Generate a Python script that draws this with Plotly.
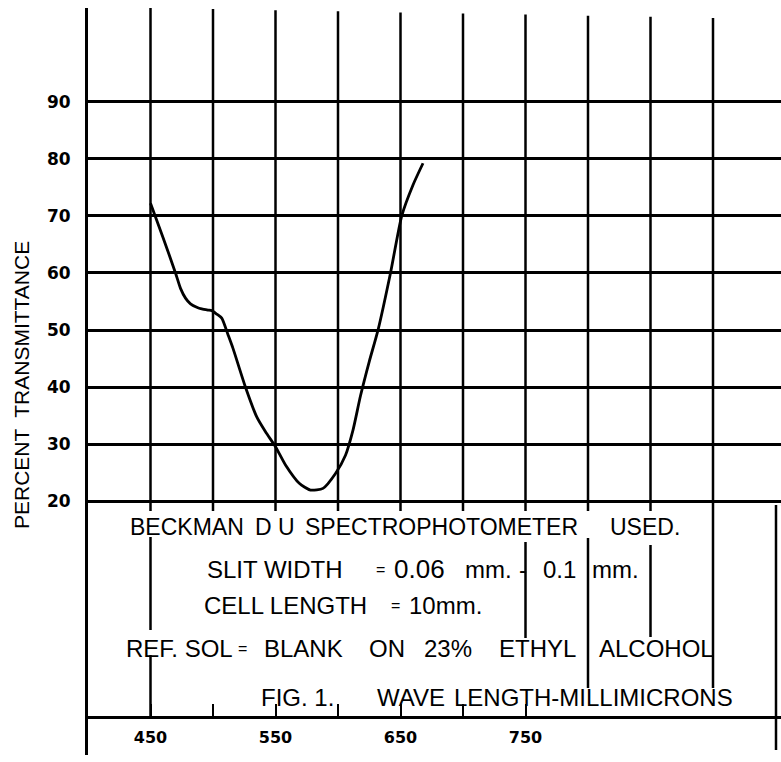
import plotly.graph_objects as go

# ---------------- data ----------------
wavelength_nm = [450, 460, 470, 474, 478, 482, 487, 491, 496, 499, 503, 507, 512,
                 516, 526, 535, 542, 550, 558, 569, 578, 588, 598, 606, 612, 618,
                 625, 632, 642, 651, 660, 668]
transmittance = [72.2, 66.2, 60.0, 57.3, 55.6, 54.6, 54.0, 53.7, 53.5, 53.4, 52.8,
                 52.1, 49.2, 46.8, 40.0, 34.8, 32.2, 29.6, 26.4, 23.2, 22.0, 22.3,
                 24.9, 28.1, 32.5, 38.5, 44.5, 50.0, 60.0, 70.0, 75.4, 79.2]

y_ticks = [20, 30, 40, 50, 60, 70, 80, 90]
y_tick_labels = ["20", "30", "40", "50", "60", "70", "80", "90"]
x_ticks = [450, 500, 550, 600, 650, 700, 750]
x_tick_labels = ["450", "", "550", "", "650", "", "750"]
grid_wavelengths = [450, 500, 550, 600, 650, 700, 750, 800, 850, 900]

# ---------------- layout geometry (pixels of the page) ----------------
FIG_W, FIG_H = 781, 762
PLOT_L, PLOT_T, PLOT_B = 88, 8, 755          # plot area edges in px
PX_PER_NM = 1.25
PX_PER_PCT = 5.7136
Y20_PX = 501.5                               # pixel row of the 20 % line
X_RANGE = [400, 400 + (FIG_W - PLOT_L) / PX_PER_NM]
Y_RANGE = [20 - (PLOT_B - Y20_PX) / PX_PER_PCT, 20 + (Y20_PX - PLOT_T) / PX_PER_PCT]


def yv(py):
    """value on the y scale for a pixel row"""
    return 20 - (py - Y20_PX) / PX_PER_PCT


def xv(px):
    return 400 + (px - PLOT_L) / PX_PER_NM


def xpx(w):
    return PLOT_L + (w - 400) * PX_PER_NM


def paper_x(px):
    return (px - PLOT_L) / (FIG_W - PLOT_L)


def paper_y(py):
    return (PLOT_B - py) / (PLOT_B - PLOT_T)


AXIS_PX = 717  # row of the wavelength axis line

# vertical grid line segments: (wavelength, top pixel row, bottom pixel row)
grid_segments = []
for w in grid_wavelengths:
    top = 7 + (xpx(w) - 93) * 11 / 626
    if w == 900:
        grid_segments.append((w, top, 688))
    else:
        grid_segments.append((w, top, 511))
grid_segments += [
    (450, 537, 630), (450, 655, AXIS_PX),
    (750, 542, 638),
    (800, 538, 688),
    (850, 545, 637),
]

gx, gy = [], []
for w, t, b in grid_segments:
    gx += [w, w, None]
    gy += [yv(t), yv(b), None]
# right border below the 20 line
gx += [xv(776), xv(776), None]
gy += [yv(505), yv(750), None]

fig = go.Figure()
fig.add_trace(go.Scatter(x=gx, y=gy, mode="lines",
                         line=dict(color="black", width=2.5),
                         hoverinfo="skip", showlegend=False))
fig.add_trace(go.Scatter(x=wavelength_nm, y=transmittance, mode="lines",
                         line=dict(color="black", width=2.8, shape="spline", smoothing=0.6),
                         showlegend=False))

LETTER = "Liberation Sans"
text_rows = [
    (527, 23, [("BECKMAN", 128), ("D U", 253), ("SPECTROPHOTOMETER", 303), ("USED.", 608)]),
    (569, 24, [("SLIT WIDTH", 205), ("=", 374), ("0.06", 392), ("mm.", 463),
               ("-", 517), ("0.1", 541), ("mm.", 590)]),
    (605, 24, [("CELL LENGTH", 202), ("=", 389), ("10mm.", 407)]),
    (648, 24, [("REF. SOL", 124), ("=", 236), ("BLANK", 262), ("ON", 367),
               ("23%", 422), ("ETHYL", 497), ("ALCOHOL", 597)]),
    (697, 24, [("FIG. 1.", 259), ("WAVE", 375), ("LENGTH-MILLIMICRONS", 452)]),
]

annotations = []
for cy, size, pieces in text_rows:
    for txt, left in pieces:
        fsize = 16 if txt == "=" else (26 if txt == "0.06" else size)
        annotations.append(dict(
            text=txt, x=paper_x(left), y=paper_y(cy), xref="paper", yref="paper",
            xanchor="left", yanchor="middle", showarrow=False,
            font=dict(family=LETTER, size=fsize, color="black")))

annotations.append(dict(
    text="PERCENT  TRANSMITTANCE", textangle=-90,
    x=paper_x(21), y=paper_y(385), xref="paper", yref="paper",
    xanchor="center", yanchor="middle", showarrow=False,
    font=dict(family=LETTER, size=21, color="black")))

fig.update_layout(
    width=FIG_W, height=FIG_H,
    margin=dict(l=PLOT_L, r=0, t=PLOT_T, b=FIG_H - PLOT_B, pad=0),
    paper_bgcolor="white", plot_bgcolor="white",
    showlegend=False,
    annotations=annotations,
    xaxis=dict(range=X_RANGE, anchor="free", position=paper_y(AXIS_PX),
               showline=True, linecolor="black", linewidth=2.6,
               ticks="inside", ticklen=12, tickwidth=2.4, tickcolor="black",
               tickvals=x_ticks, ticktext=x_tick_labels,
               tickfont=dict(family="DejaVu Sans", size=16, color="black", weight="bold"),
               ticklabelstandoff=5,
               showgrid=False, zeroline=False, fixedrange=True),
    yaxis=dict(range=Y_RANGE, showline=True, linecolor="black", linewidth=3,
               ticks="", tickvals=y_ticks, ticktext=y_tick_labels,
               tickfont=dict(family="DejaVu Sans", size=17, color="black", weight="bold"),
               ticklabelstandoff=11,
               showgrid=True, gridcolor="black", gridwidth=2.6,
               zeroline=False, fixedrange=True),
)

fig.write_html("out.html", config={"displayModeBar": False},
               post_script="document.body.style.margin='0';document.body.style.padding='0';")
